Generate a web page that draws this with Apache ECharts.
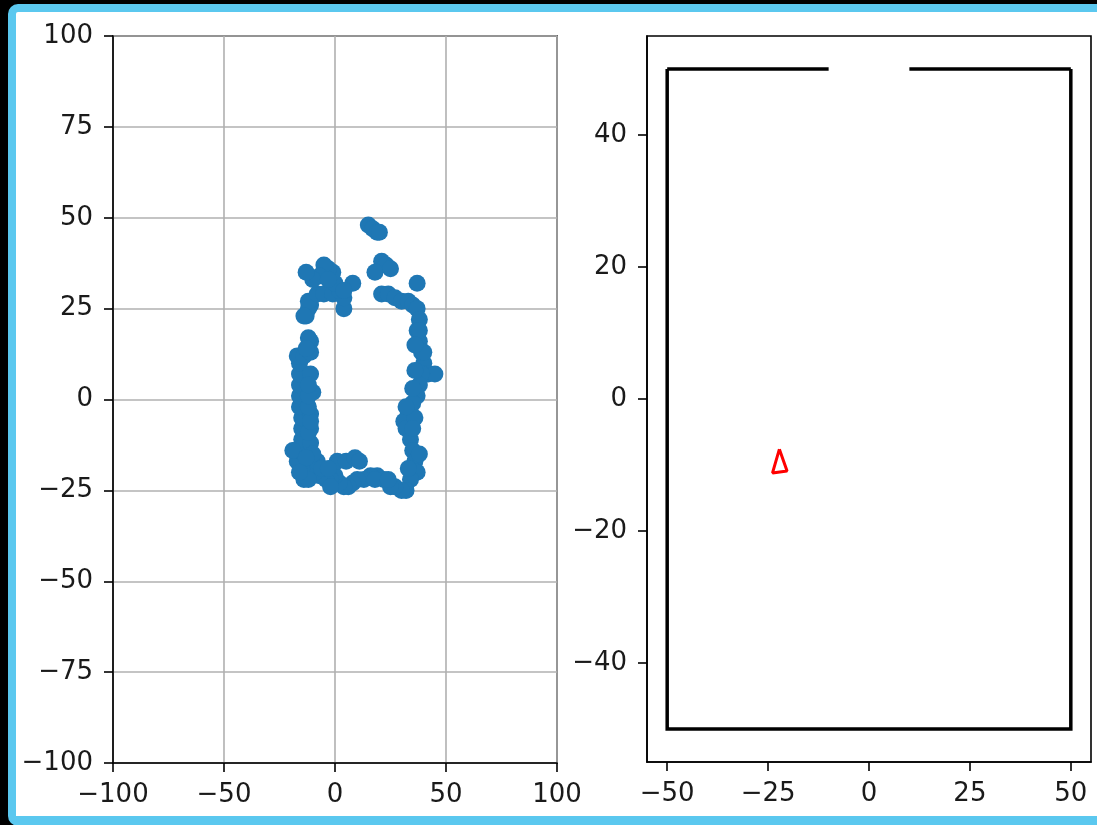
<!DOCTYPE html>
<html>
<head>
<meta charset="utf-8">
<script src="https://cdn.jsdelivr.net/npm/echarts@6/dist/echarts.min.js"></script>
<style>
html, body { margin: 0; padding: 0; background: #000; width: 1097px; height: 825px; overflow: hidden; }
#frame { position: absolute; left: 8px; top: 4px; width: 1120px; height: 804px; border-style: solid; border-color: #5bc8ef; border-width: 8px 8px 10px 8px; border-radius: 10px; background: #fff; }
#chart { position: absolute; left: 0; top: 0; width: 1097px; height: 825px; }
</style>
</head>
<body>
<div id="frame"></div>
<div id="chart"></div>
<script>
// Left panel: scanned points
const scanX = [
  15, 17, 19, 20, 21, 23, 18, 25, 37,
  21, 24, 27, 30, 33, 35, 37, 38, 37, 38, 39, 40, 42, 45, 39, 38, 37, 35, 33, 31, 32, 34, 35, 36, 37, 34, 32, 30, 27, 25,
  22, 19, 16, 13, 10, 8, 6, 4, 2, 0, -2, -4, -7, -9, -11, -13, -15, -17, -18, -16, -15, -15, -15, -16, -16, -16, -16, -16, -17, -14, -11,
  -8, 1, 5, 9, 11, -11, -11, -10, -11, -12, -13, -11, -12, -12, -8, -5, -1, 4, 4, 2, 0, -1, -3, -5, -7, -10, -13, 8, 4, -3, -14, -19,
  -11, -12, -11, -12, -12, -12, -11, -13, -10, -13,
  -14, -12, -6, -3, -2, 18, 24, -16,
  36, 32, 35, 36, 40, 38, 36, 35, 38, 33
];
const scanY = [
  48, 47, 46, 46, 38, 37, 35, 36, 32,
  29, 29, 28, 27, 27, 26, 25, 22, 19, 16, 13, 10, 7, 7, 7, 4, 1, -1, -4, -6, -8, -11, -14, -17, -20, -22, -25, -25, -24, -24,
  -22, -21, -21, -22, -22, -23, -24, -24, -23, -21, -22, -22, -21, -20, -19, -20, -19, -17, -14, -14, -11, -8, -5, -2, 1, 4, 7, 10, 12, 12, 16,
  -17, -17, -17, -16, -17, -4, -8, 2, 7, 17, 23, 26, 25, 27, 29, 29, 29, 25, 28, 30, 32, 35, 36, 37, 34, 33, 35, 32, 30, 33, 23, -14,
  -12, -9, -6, -2, 1, 4, 13, 14, -15, -16,
  -22, -22, -19, -19, -24, -22, -22, -20,
  -5, -2, 3, 8, 13, 19, 15, -8, -15, -19
];
const leftXTicks = [-100, -50, 0, 50, 100];
const leftYTicks = [-100, -75, -50, -25, 0, 25, 50, 75, 100];

// Right panel: room walls (segments) and robot pose triangle
const wallTopLeft = [[-50, 50], [-10, 50]];
const wallTopRight = [[10, 50], [50, 50]];
const wallOuter = [[-50, 50], [-50, -50], [50, -50], [50, 50]];
const robotX = [-22.2, -23.9, -20.3, -22.2];
const robotY = [-7.6, -11.2, -10.9, -7.6];
const rightXTicks = [-50, -25, 0, 25, 50];
const rightYTicks = [-40, -20, 0, 20, 40];

const FONT = 'DejaVu Sans';
const fmt = v => String(v).replace('-', '\u2212');
const labelStyle = { color: '#1a1a1a', fontFamily: FONT, fontSize: 26, formatter: fmt };

const chart = echarts.init(document.getElementById('chart'), null, { renderer: 'canvas' });

const scanData = scanX.map((x, i) => [x, scanY[i]]);
const robotData = robotX.map((x, i) => [x, robotY[i]]);

const axisLineStyle = { color: '#000', width: 1.6 };

const option = {
  backgroundColor: 'transparent',
  animation: false,
  grid: [
    { left: 113, top: 36, width: 444, height: 727, show: true, borderColor: '#000', borderWidth: 1.6, backgroundColor: 'transparent' },
    { left: 647, top: 36, width: 444, height: 726, show: true, borderColor: '#000', borderWidth: 1.6, backgroundColor: 'transparent' }
  ],
  xAxis: [
    { gridIndex: 0, type: 'value', min: -100, max: 100, interval: 50,
      axisLine: { show: true, onZero: false, lineStyle: axisLineStyle },
      axisTick: { show: true, length: 9, lineStyle: axisLineStyle },
      axisLabel: Object.assign({ margin: 19 }, labelStyle),
      splitLine: { show: true, lineStyle: { color: '#b0b0b0', width: 1.6 } } },
    { gridIndex: 1, type: 'value', min: -55, max: 55,
      axisLine: { show: true, onZero: false, lineStyle: axisLineStyle },
      axisTick: { show: true, length: 9, customValues: rightXTicks, lineStyle: axisLineStyle },
      axisLabel: Object.assign({ margin: 19, customValues: rightXTicks }, labelStyle),
      splitLine: { show: false } }
  ],
  yAxis: [
    { gridIndex: 0, type: 'value', min: -100, max: 100, interval: 25,
      axisLine: { show: true, onZero: false, lineStyle: axisLineStyle },
      axisTick: { show: true, length: 9, lineStyle: axisLineStyle },
      axisLabel: Object.assign({ margin: 20 }, labelStyle),
      splitLine: { show: true, lineStyle: { color: '#b0b0b0', width: 1.6 } } },
    { gridIndex: 1, type: 'value', min: -55, max: 55,
      axisLine: { show: true, onZero: false, lineStyle: axisLineStyle },
      axisTick: { show: true, length: 9, customValues: rightYTicks, lineStyle: axisLineStyle },
      axisLabel: Object.assign({ margin: 20, customValues: rightYTicks }, labelStyle),
      splitLine: { show: false } }
  ],
  series: [
    { type: 'scatter', xAxisIndex: 0, yAxisIndex: 0, data: scanData, symbol: 'circle', symbolSize: 17,
      itemStyle: { color: '#1f77b4', opacity: 1 } },
    { type: 'line', xAxisIndex: 1, yAxisIndex: 1, data: wallTopLeft, symbol: 'none',
      lineStyle: { color: '#000', width: 3.5 } },
    { type: 'line', xAxisIndex: 1, yAxisIndex: 1, data: wallTopRight, symbol: 'none',
      lineStyle: { color: '#000', width: 3.5 } },
    { type: 'line', xAxisIndex: 1, yAxisIndex: 1, data: wallOuter, symbol: 'none',
      lineStyle: { color: '#000', width: 3.5, join: 'miter' } },
    { type: 'line', xAxisIndex: 1, yAxisIndex: 1, data: robotData, symbol: 'none',
      lineStyle: { color: '#ff0000', width: 3 } }
  ]
};
chart.setOption(option);
</script>
</body>
</html>
